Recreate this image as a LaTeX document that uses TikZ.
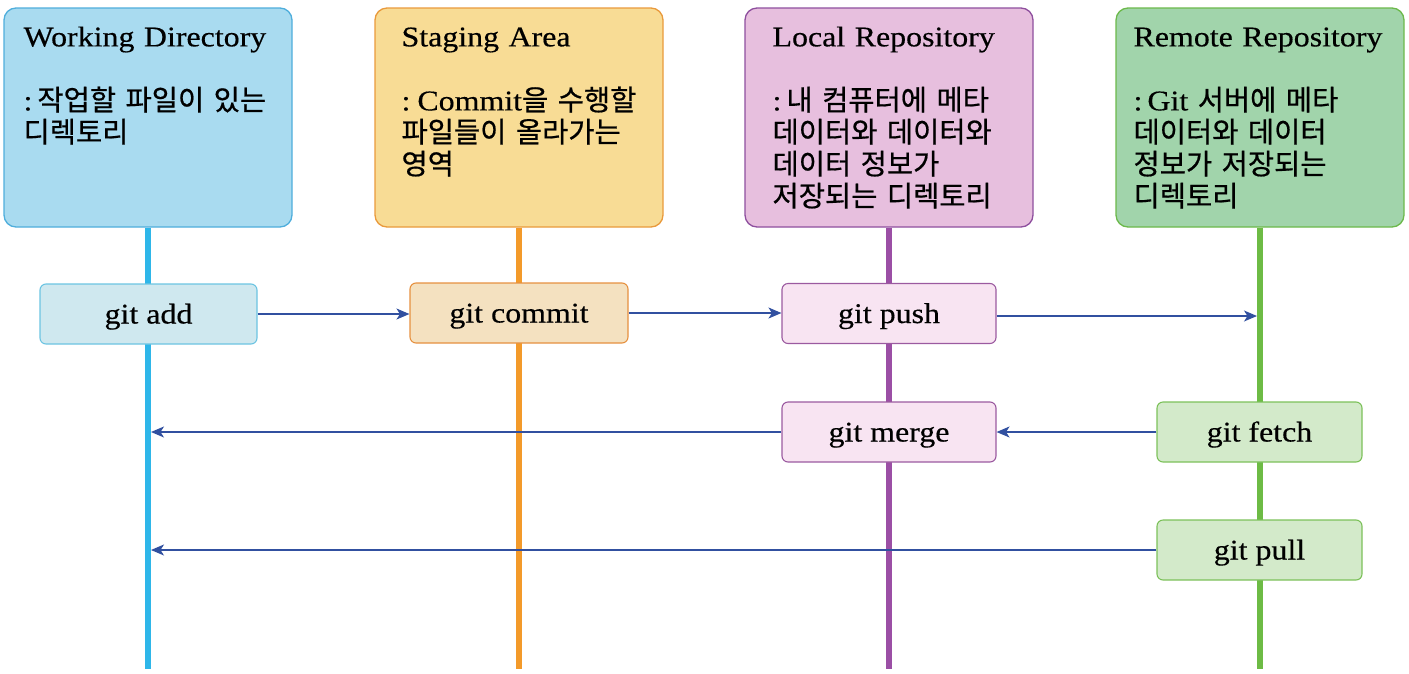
\documentclass[tikz,border=0pt]{standalone}
\usepackage{fontspec}
\setmainfont{Liberation Serif}[FakeStretch=1.12,FakeBold=0.4]
\newfontfamily\kr{Noto Sans CJK KR}[FakeBold=0.6]
\usetikzlibrary{arrows.meta}
\definecolor{wdfill}{HTML}{A9DBF0}
\definecolor{wddraw}{HTML}{4FAEDC}
\definecolor{wdline}{HTML}{2EB6E9}
\definecolor{safill}{HTML}{F8DC95}
\definecolor{sadraw}{HTML}{E99A3C}
\definecolor{saline}{HTML}{F39A2A}
\definecolor{lrfill}{HTML}{E7BFDE}
\definecolor{lrdraw}{HTML}{8E4F9E}
\definecolor{lrline}{HTML}{9B4FA5}
\definecolor{rrfill}{HTML}{A1D4AB}
\definecolor{rrdraw}{HTML}{6CB94B}
\definecolor{rrline}{HTML}{6DBB45}
\definecolor{addfill}{HTML}{CFE8EF}
\definecolor{adddraw}{HTML}{6CC4E2}
\definecolor{comfill}{HTML}{F4E1C0}
\definecolor{comdraw}{HTML}{E69140}
\definecolor{pushfill}{HTML}{F8E4F2}
\definecolor{pushdraw}{HTML}{9B5AA0}
\definecolor{fetchfill}{HTML}{D3EACA}
\definecolor{fetchdraw}{HTML}{7CC15A}
\definecolor{arrowcol}{HTML}{3150A0}
\tikzset{
  hdr/.style={rounded corners=12pt, minimum width=288pt, minimum height=219pt, line width=1.3pt, inner sep=0pt},
  hdrtxt/.style={anchor=base west, inner sep=0pt, align=left, text width=300pt, font=\fontsize{28.5}{32}\selectfont},
  cmd/.style={rounded corners=6pt, minimum height=60pt, line width=1.1pt, inner sep=0pt, text depth=0pt, text height=19pt, font=\fontsize{28.5}{32}\selectfont},
  lifeline/.style={line width=6pt},
  flow/.style={draw=arrowcol, line width=1.4pt, -{Stealth[length=13pt,width=11pt,inset=3.5pt]}}
}
\begin{document}
\begin{tikzpicture}[x=1pt,y=-1pt]
\useasboundingbox (0,0) rectangle (1409,673);
% header boxes
\node[hdr, fill=wdfill, draw=wddraw] (wd) at (148,117.5) {};
\node[hdr, fill=safill, draw=sadraw] (sa) at (519,117.5) {};
\node[hdr, fill=lrfill, draw=lrdraw] (lr) at (889,117.5) {};
\node[hdr, fill=rrfill, draw=rrdraw] (rr) at (1260,117.5) {};
% header texts
\node[hdrtxt] (wdt) at ([shift={(20,39)}]wd.north west)
  {Working Directory\\[32pt]:\hspace{5pt}{\kr 작업할 파일이 있는}\\{\kr 디렉토리}};
\node[hdrtxt] (sat) at ([shift={(27,39)}]sa.north west)
  {Staging Area\\[32pt]:\hspace{7pt}Commit{\kr 을 수행할}\\{\kr 파일들이 올라가는}\\{\kr 영역}};
\node[hdrtxt] (lrt) at ([shift={(28,39)}]lr.north west)
  {Local Repository\\[32pt]:\hspace{5pt}{\kr 내 컴퓨터에 메타}\\{\kr 데이터와 데이터와}\\{\kr 데이터 정보가}\\{\kr 저장되는 디렉토리}};
\node[hdrtxt] (rrt) at ([shift={(18,39)}]rr.north west)
  {Remote Repository\\[32pt]:\hspace{5pt}Git {\kr 서버에 메타}\\{\kr 데이터와 데이터}\\{\kr 정보가 저장되는}\\{\kr 디렉토리}};
% lifeline ends
\coordinate (wde) at (148,669);
\coordinate (sae) at (519,669);
\coordinate (lre) at (889,669);
\coordinate (rre) at (1260,669);
% arrow end points on lifelines
\coordinate (pushend) at (1257,316);
\coordinate (mergeend) at (151,432);
\coordinate (pullend) at (151,550);
% command node positions
\path (148.5,314) coordinate (addc) (519,313) coordinate (comc) (889,313.5) coordinate (pushc)
      (889,432) coordinate (mergec) (1259.5,432) coordinate (fetchc) (1259.5,550) coordinate (pullc);
% lifelines
\draw[lifeline, wdline] (wd.south) -- (wde);
\draw[lifeline, saline] (sa.south) -- (sae);
\draw[lifeline, lrline] (lr.south) -- (lre);
\draw[lifeline, rrline] (rr.south) -- (rre);
% command boxes
\node[cmd, fill=addfill, draw=adddraw, minimum width=217pt] (add) at (addc) {git add};
\node[cmd, fill=comfill, draw=comdraw, minimum width=218pt] (commit) at (comc) {git commit};
\node[cmd, fill=pushfill, draw=pushdraw, minimum width=214pt] (push) at (pushc) {git push};
\node[cmd, fill=pushfill, draw=pushdraw, minimum width=214pt] (merge) at (mergec) {git merge};
\node[cmd, fill=fetchfill, draw=fetchdraw, minimum width=205pt] (fetch) at (fetchc) {git fetch};
\node[cmd, fill=fetchfill, draw=fetchdraw, minimum width=205pt] (pull) at (pullc) {git pull};
% connectors
\draw[flow] (add.east) -- (add.east -| commit.west);
\draw[flow] (commit.east) -- (commit.east -| push.west);
\draw[flow] (push.east |- pushend) -- (pushend);
\draw[flow] (fetch.west) -- (merge.east);
\draw[flow] (merge.west) -- (mergeend);
\draw[flow] (pull.west) -- (pullend);
\end{tikzpicture}
\end{document}
